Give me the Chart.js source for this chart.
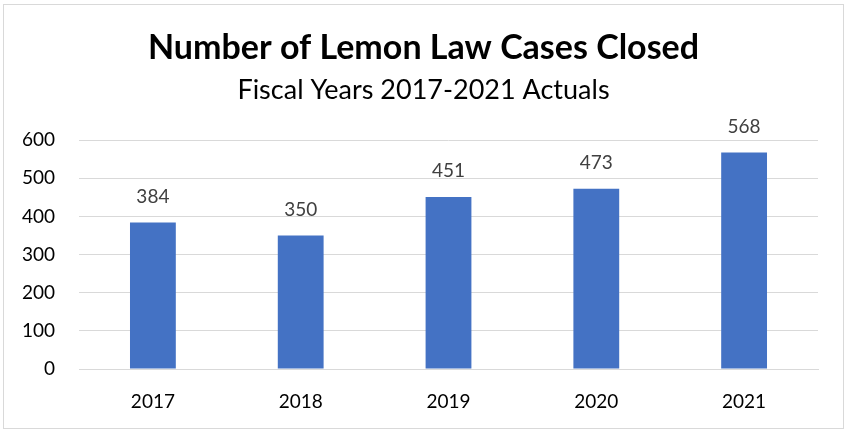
<!DOCTYPE html>
<html>
<head>
<meta charset="utf-8">
<script src="https://cdn.jsdelivr.net/npm/chart.js@4"></script>
<style>
  body { margin: 0; background: #fff; }
  #wrap { position: relative; width: 847px; height: 430px; }
  #frame { position: absolute; left: 3px; top: 4px; width: 839px; height: 423px; border: 1px solid #d9d9d9; pointer-events: none; }
  canvas { position: absolute; left: 0; top: 0; }
</style>
</head>
<body>
<div id="wrap">
  <canvas id="myChart" width="847" height="430"></canvas>
  <div id="frame"></div>
</div>
<script>
// chart data
const years = ['2017', '2018', '2019', '2020', '2021'];
const casesClosed = [384, 350, 451, 473, 568];
const yTicks = [0, 100, 200, 300, 400, 500, 600];

const FONT = 'Lato, "Open Sans", sans-serif';

// draws the value above each bar
const barLabels = {
    id: 'barLabels',
    afterDatasetsDraw(chart) {
        const ctx = chart.ctx;
        const meta = chart.getDatasetMeta(0);
        ctx.save();
        ctx.font = '19px ' + FONT;
        ctx.fillStyle = '#404040';
        ctx.textAlign = 'center';
        ctx.textBaseline = 'middle';
        meta.data.forEach((bar, i) => {
            ctx.fillText(chart.data.datasets[0].data[i], bar.x, bar.y - 26);
        });
        ctx.restore();
    }
};

const myChart = new Chart(document.getElementById('myChart'), {
    type: 'bar',
    data: {
        labels: years,
        datasets: [{
            data: casesClosed,
            backgroundColor: '#4472C4',
            categoryPercentage: 1,
            barPercentage: 0.31
        }]
    },
    options: {
        responsive: false,
        animation: false,
        layout: { padding: 0 },
        plugins: {
            legend: { display: false },
            tooltip: { enabled: false },
            title: {
                display: true,
                text: 'Number of Lemon Law Cases Closed',
                color: '#000',
                font: { family: FONT, size: 34, weight: 'bold', lineHeight: 1.2 },
                padding: { top: 28, bottom: 0 }
            },
            subtitle: {
                display: true,
                text: 'Fiscal Years 2017-2021 Actuals',
                color: '#000',
                font: { family: FONT, size: 27, lineHeight: 1.2 },
                padding: { top: 5, bottom: 34 }
            }
        },
        scales: {
            x: {
                grid: { display: false },
                border: { color: '#d9d9d9' },
                ticks: { color: '#000', font: { family: FONT, size: 19 }, padding: 13 },
                afterFit(scale) { scale.height = 61; }
            },
            y: {
                min: 0,
                max: 600,
                afterBuildTicks(scale) { scale.ticks = yTicks.map(v => ({ value: v })); },
                grid: { color: '#d9d9d9', drawTicks: false },
                border: { display: false },
                ticks: { color: '#000', font: { family: FONT, size: 19 }, padding: 24 },
                afterFit(scale) { scale.width = 79; }
            },
            // empty right axis, only keeps the right margin so titles stay centred
            yRight: {
                position: 'right',
                display: true,
                grid: { display: false },
                border: { display: false },
                ticks: { display: false },
                afterFit(scale) { scale.width = 29; }
            }
        }
    },
    plugins: [barLabels]
});
</script>
</body>
</html>
